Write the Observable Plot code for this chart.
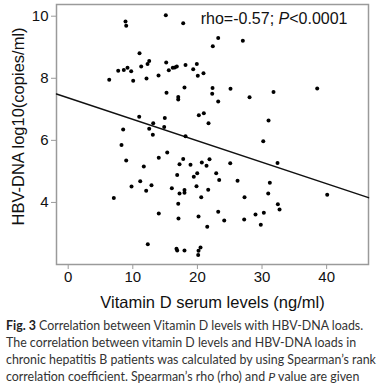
<!DOCTYPE html>
<html>
<head>
<meta charset="utf-8">
<script src="https://cdn.jsdelivr.net/npm/d3@7"></script>
<script src="https://cdn.jsdelivr.net/npm/@observablehq/plot@0.6"></script>
<style>
  html, body { margin: 0; padding: 0; background: #fff; }
  #chart { width: 377px; }
  #caption { font-family: Lato, "Open Sans", sans-serif; color: #333; margin: 1px 0 0 6px; }
  #caption div { white-space: nowrap; line-height: 17px; }
  #caption b { color: #222; }
</style>
</head>
<body>
<div id="chart"></div>
<div id="caption">
  <div><span><b>Fig. 3</b> Correlation between Vitamin D levels with HBV-DNA loads.</span></div>
  <div><span>The correlation between vitamin D levels and HBV-DNA loads in</span></div>
  <div><span id="fitline">chronic hepatitis B patients was calculated by using Spearman’s rank</span></div>
  <div><span>correlation coefficient. Spearman’s rho (rho) and <i>P</i> value are given</span></div>
</div>
<script>
// Vitamin D serum levels (ng/ml)
const vitD = [15.11, 8.87, 8.98, 17.80, 23.22, 22.38, 11.04, 12.54, 12.28, 11.30,
  15.17, 19.91, 18.16, 16.81, 16.50, 16.19, 15.57, 19.35, 7.74, 8.61,
  9.18, 9.75, 10.06, 6.35, 12.12, 13.98, 20.94, 20.06, 22.34, 22.29,
  23.22, 18.00, 15.22, 17.03, 17.03, 10.99, 14.95, 13.16, 12.54, 14.86,
  8.51, 20.22, 20.99, 21.72, 27.03, 25.12, 28.07, 31.78, 38.54, 31.01,
  13.10, 18.16, 8.25, 8.98, 15.33, 14.02, 17.80, 17.23, 18.93, 20.68,
  21.41, 21.87, 11.70, 16.87, 19.97, 19.44, 22.91, 23.37, 11.15, 9.80,
  12.89, 12.07, 16.04, 17.23, 18.00, 18.00, 19.86, 21.67, 20.59, 7.06,
  17.03, 23.22, 14.02, 17.07, 20.17, 21.52, 12.32, 16.76, 16.87, 18.00,
  20.48, 20.17, 20.12, 30.19, 32.40, 25.08, 26.21, 31.21, 27.29, 30.96,
  40.09, 32.45, 32.71, 30.28, 28.99, 27.24, 24.15, 29.81];
// HBV-DNA log10(copies/ml)
const hbv = [10.03, 9.83, 9.69, 9.77, 9.30, 9.03, 8.81, 8.56, 8.46, 8.38,
  8.51, 8.46, 8.43, 8.38, 8.35, 8.34, 8.26, 8.29, 8.24, 8.27,
  8.34, 8.23, 7.92, 7.95, 7.99, 8.09, 8.16, 8.08, 7.69, 7.50,
  7.25, 7.70, 7.53, 7.40, 7.32, 6.76, 6.72, 6.55, 6.37, 6.43,
  6.35, 6.81, 6.87, 6.55, 9.21, 7.66, 7.39, 7.56, 7.67, 6.64,
  6.18, 6.13, 5.85, 5.35, 5.61, 5.44, 5.40, 5.23, 5.21, 5.29,
  5.18, 5.39, 5.16, 4.88, 4.94, 4.83, 4.94, 4.72, 4.68, 4.51,
  4.55, 4.38, 4.46, 4.29, 4.40, 4.31, 4.52, 4.41, 4.17, 4.14,
  3.96, 3.70, 3.64, 3.48, 3.55, 3.22, 2.65, 2.51, 2.45, 2.45,
  2.55, 2.44, 2.31, 5.97, 5.27, 5.26, 4.70, 4.63, 4.17, 4.29,
  4.25, 3.94, 3.77, 3.67, 3.61, 3.45, 3.42, 3.28];
const fitIntercept = 7.37;
const fitSlope = -0.0692;
const xTicks = [0, 10, 20, 30, 40];
const yTicks = [4, 6, 8, 10];
const xDomain = [-1.81, 46.48];
const yDomain = [2, 10.377];
const statText = "rho=-0.57; P<0.0001";
const xLabel = "Vitamin D serum levels (ng/ml)";
const yLabel = "HBV-DNA log10(copies/ml)";

const points = vitD.map((v, i) => ({x: v, y: hbv[i]}));
const fit = xDomain.map(x => ({x, y: fitIntercept + fitSlope * x}));

const plot = Plot.plot({
  width: 377,
  height: 316,
  marginLeft: 56,
  marginRight: 9,
  marginTop: 4,
  marginBottom: 52,
  style: {fontFamily: "'Liberation Sans', Arial, sans-serif", fontSize: "15px", color: "#111", background: "#fff"},
  x: {domain: xDomain},
  y: {domain: yDomain},
  marks: [
    Plot.frame({stroke: "#9a9a9a", strokeWidth: 1.5}),
    Plot.axisX({ticks: xTicks, tickSize: 5, tickPadding: 2, stroke: "#9a9a9a", fill: "#111", fontSize: 15, label: null}),
    Plot.axisY({ticks: yTicks, tickSize: 5, tickPadding: 3, stroke: "#9a9a9a", fill: "#111", fontSize: 15, label: null}),
    Plot.line(fit, {x: "x", y: "y", stroke: "#111", strokeWidth: 1.5}),
    Plot.dot(points, {x: "x", y: "y", r: 2, fill: "#000", stroke: "none"}),
    Plot.text([statText], {frameAnchor: "top-right", text: d => d, dx: -21, dy: 8, fontSize: 16, fill: "#111", lineAnchor: "top"}),
    Plot.text([xLabel], {frameAnchor: "bottom", text: d => d, dy: 38, fontSize: 16.5, fill: "#111", lineAnchor: "middle", textAnchor: "middle"}),
    Plot.text([yLabel], {frameAnchor: "left", text: d => d, dx: -38, dy: -8, rotate: -90, fontSize: 16.5, fill: "#111", lineAnchor: "middle", textAnchor: "middle"})
  ]
});
document.getElementById("chart").appendChild(plot);

// italicise the "P" in the statistic annotation
d3.select(plot).selectAll("text").each(function() {
  if (this.textContent === statText) {
    const t = d3.select(this);
    t.text(null);
    t.append("tspan").text("rho=-0.57; ");
    t.append("tspan").attr("font-style", "italic").text("P");
    t.append("tspan").text("<0.0001");
  }
});

// fit caption width to reference
const cap = document.getElementById("caption");
cap.style.fontSize = "13px";
const w = document.getElementById("fitline").getBoundingClientRect().width;
cap.style.fontSize = (13 * 370 / w).toFixed(2) + "px";
</script>
</body>
</html>
